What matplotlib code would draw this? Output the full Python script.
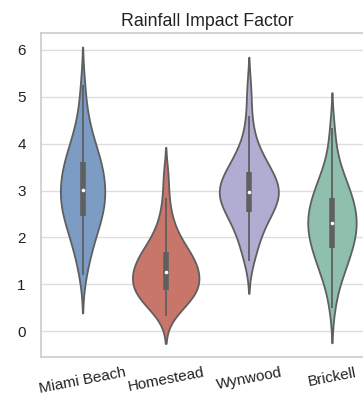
import matplotlib
matplotlib.use("Agg")
import matplotlib.pyplot as plt
import numpy as np

# Neighbourhoods and their rainfall impact factor samples
categories = ["Miami Beach", "Homestead", "Wynwood", "Brickell"]

miami_beach = [1.20, 1.50, 1.68, 1.83, 1.96, 2.06, 2.15, 2.24, 2.31, 2.41,
               2.47, 2.52, 2.58, 2.64, 2.70, 2.75, 2.81, 2.87, 2.92, 2.97,
               3.05, 3.10, 3.16, 3.22, 3.28, 3.34, 3.40, 3.46, 3.52, 3.59,
               3.66, 3.74, 3.82, 3.91, 4.00, 4.12, 4.28, 4.48, 4.75, 5.25]
homestead = [0.33, 0.45, 0.53, 0.60, 0.66, 0.71, 0.75, 0.79, 0.82, 0.85,
             0.89, 0.93, 0.97, 1.01, 1.05, 1.09, 1.13, 1.17, 1.20, 1.24,
             1.28, 1.32, 1.36, 1.40, 1.44, 1.49, 1.53, 1.57, 1.62, 1.67,
             1.72, 1.78, 1.85, 1.93, 2.03, 2.15, 2.30, 2.50, 2.85, 3.33]
wynwood = [1.49, 1.68, 1.85, 1.98, 2.10, 2.21, 2.30, 2.37, 2.44, 2.50,
           2.56, 2.61, 2.66, 2.71, 2.76, 2.80, 2.84, 2.88, 2.92, 2.95,
           2.99, 3.02, 3.06, 3.10, 3.14, 3.18, 3.23, 3.28, 3.33, 3.38,
           3.44, 3.50, 3.57, 3.64, 3.73, 3.84, 3.98, 4.20, 4.60, 5.16]
brickell = [0.50, 0.90, 1.08, 1.21, 1.32, 1.41, 1.50, 1.58, 1.66, 1.72,
            1.79, 1.85, 1.91, 1.97, 2.02, 2.08, 2.13, 2.18, 2.23, 2.28,
            2.34, 2.39, 2.44, 2.49, 2.55, 2.60, 2.65, 2.71, 2.77, 2.83,
            2.90, 2.96, 3.04, 3.12, 3.20, 3.30, 3.42, 3.60, 3.88, 4.34]

colors = ["#7c9cc4", "#c8766a", "#b1acd1", "#8fc0ae"]
yticks = [0, 1, 2, 3, 4, 5, 6]

plt.rcParams["font.family"] = ["Liberation Sans", "DejaVu Sans"]

series = [miami_beach, homestead, wynwood, brickell]
edge = "#5f5f5f"
bw_factor = 0.45
cut = 2
max_width = 0.8


def kde(values):
    """Gaussian KDE on a grid running `cut` bandwidths past the data."""
    v = np.asarray(values, dtype=float)
    bw = bw_factor * v.std(ddof=1)
    grid = np.linspace(v.min() - cut * bw, v.max() + cut * bw, 400)
    z = (grid[:, None] - v[None, :]) / bw
    dens = np.exp(-0.5 * z ** 2).sum(axis=1) / (len(v) * bw * np.sqrt(2 * np.pi))
    return grid, dens


kdes = [kde(s) for s in series]
peak = max(d.max() for _, d in kdes)

fig = plt.figure(figsize=(3.63, 4.04), dpi=100)
ax = fig.add_axes([41 / 363, 47 / 404, 332.5 / 363, 324 / 404])
ax.set_facecolor("white")

for i, (vals, (grid, dens), col) in enumerate(zip(series, kdes, colors)):
    half = dens / peak * max_width / 2
    ax.fill_betweenx(grid, i - half, i + half, facecolor=col,
                     edgecolor=edge, linewidth=1.3, zorder=2)
    q1, med, q3 = np.percentile(vals, [25, 50, 75])
    iqr = q3 - q1
    arr = np.asarray(vals)
    lo = arr[arr >= q1 - 1.5 * iqr].min()
    hi = arr[arr <= q3 + 1.5 * iqr].max()
    ax.plot([i, i], [lo, hi], color=edge, linewidth=1.3,
            solid_capstyle="butt", zorder=3)
    ax.plot([i, i], [q1, q3], color=edge, linewidth=4,
            solid_capstyle="butt", zorder=4)
    ax.plot([i], [med], marker="o", markersize=2.6, color="white",
            markeredgewidth=0, zorder=5)

ax.set_xlim(-0.5, 3.5)
ax.set_ylim(-0.55, 6.36)
ax.set_yticks(yticks)
ax.set_xticks(range(len(categories)))
ax.set_xticklabels(categories, rotation=11, ha="center")
ax.set_title("Rainfall Impact Factor", fontsize=12.8, pad=5, color="#222222")
ax.tick_params(axis="y", labelsize=11, pad=11, length=0, labelcolor="#222222")
ax.tick_params(axis="x", labelsize=11, pad=6, length=0, labelcolor="#222222")
ax.set_axisbelow(True)
ax.grid(True, axis="y", color="#dddddd", linewidth=1)
for s in ax.spines.values():
    s.set_color("#cccccc")
    s.set_linewidth(1.2)

fig.savefig("out.png", dpi=100, facecolor="white")
